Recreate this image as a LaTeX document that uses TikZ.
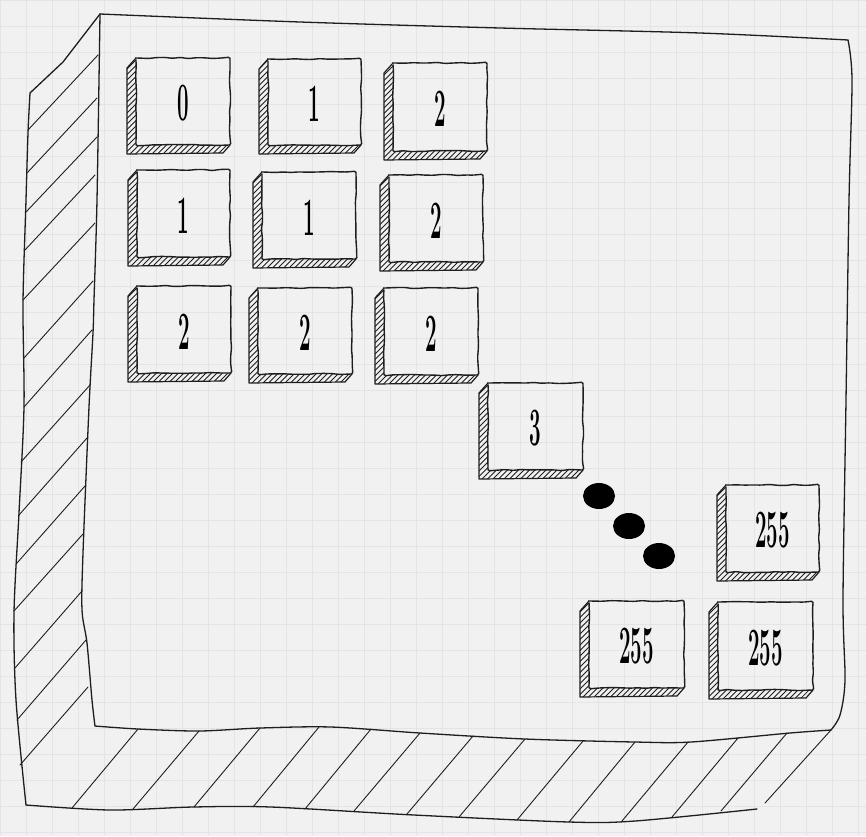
\documentclass[tikz,border=0pt]{standalone}
\usepackage{fontspec}
\usetikzlibrary{decorations.pathmorphing,shapes.geometric}
\definecolor{bg}{HTML}{F1F1F1}
\definecolor{gridc}{HTML}{E4E4E4}
\definecolor{ink}{HTML}{1E1E1E}
\tikzset{
  outline/.style={draw=ink, line width=1.3pt, line join=round, line cap=round},
  bighatch/.style={draw=ink, line width=0.9pt, line cap=round},
  boxface/.style={draw=ink, line width=1.4pt, line join=round, decorate,
    decoration={random steps, segment length=8pt, amplitude=0.6pt}, rounded corners=1.5pt},
  shadeline/.style={draw=ink, line width=1.2pt, line join=round},
  fine/.style={draw=ink, line width=0.75pt},
  digit/.style={inner sep=0pt, font=\fontsize{54}{54}\selectfont\bfseries, text=black},
  dot/.style={ellipse, fill=black, draw=none, minimum width=32pt, minimum height=26pt, inner sep=0pt}
}
\newcommand\cubebox[6]{%
  \begin{scope}
    \clip (#2,#3) -- ({#2-9},{#3+10}) -- ({#2-9},{#5+9}) -- ({#4-7},{#5+8}) -- (#4,#5) -- (#2,#5) -- cycle;
    \foreach \t in {-110,-104.5,...,100} \draw[fine] ({#2+\t},{#5+14}) -- ++(150,-150);
  \end{scope}
  \draw[shadeline] (#2,#3) -- ({#2-9},{#3+10}) -- ({#2-9},{#5+9}) -- ({#4-7},{#5+8}) -- (#4,#5);
  \draw[boxface] (#2,#3) rectangle (#4,#5);
  \node[digit] (#1) at ({(#2+#4)/2},{(#3+#5)/2+2}) {\scalebox{0.38}[1]{#6}};
}
\begin{document}
\begin{tikzpicture}[x=1pt,y=-1pt]
\useasboundingbox (0,0) rectangle (866,836);
\fill[bg] (0,0) rectangle (866,836);
\foreach \g in {0,26,...,858} \draw[gridc, line width=1pt] (\g,0) -- (\g,836);
\foreach \g in {0,26,...,832} \draw[gridc, line width=1pt] (0,\g) -- (866,\g);
\pgfmathsetseed{7}
% big slab: front face
\draw[outline] plot[smooth] coordinates {(100,14) (300,22) (500,28) (700,33) (848,40)};
\draw[outline] plot[smooth] coordinates {(848,40) (852,80) (849,200) (846,400) (843,600) (845,680) (840,715) (831,730)};
\draw[outline] plot[smooth] coordinates {(831,730) (790,733) (691,742) (635,742) (525,739) (420,733) (331,727) (260,728) (199,731) (138,729) (95,726)};
\draw[outline] plot[smooth] coordinates {(95,726) (92,700) (87,643) (82,610) (83,553) (89,407) (93,333) (94,300) (97,200) (100,14)};
% left face
\draw[outline] (100,14) -- (63,62) -- (30,93);
\draw[outline] plot[smooth] coordinates {(30,93) (28,133) (26,200) (23,303) (24,407) (19,513) (14,613) (16,700) (26,805)};
% bottom face
\draw[outline] plot[smooth] coordinates {(26,805) (110,810) (193,807) (271,807) (414,815) (569,822) (635,821) (757,809)};
% left face hatching
\foreach \a/\b/\c/\d in {28/130/98/55, 27/173/97/98, 26/212/97/137, 25/250/95/175, 23/300/95/223,
  24/358/93/281, 24/407/92/330, 21/462/90/385, 19/515/87/438, 17/563/85/486, 14/611/83/534,
  15/668/82/591, 17/720/86/640, 20/765/88/687}
  \draw[bighatch] (\a,\b) -- (\c,\d);
% bottom face hatching
\foreach \a/\b/\c/\d in {138/729/72/808, 199/731/133/809, 260/728/194/807, 319/727/253/807,
  371/729/305/809, 420/733/354/811, 473/736/407/814, 525/739/459/817, 583/741/517/820,
  635/742/569/822, 688/742/622/821, 738/738/672/817, 787/733/721/811, 831/730/765/803}
  \draw[bighatch] (\a,\b) -- (\c,\d);
% small boxes
\cubebox{c1}{136}{58}{230}{145}{0}
\cubebox{c2}{268}{59}{361}{145}{1}
\cubebox{c3}{393}{63}{487}{151}{2}
\cubebox{c4}{137}{170}{230}{257}{1}
\cubebox{c5}{262}{172}{356}{259}{1}
\cubebox{c6}{389}{175}{483}{262}{2}
\cubebox{c7}{137}{286}{231}{373}{2}
\cubebox{c8}{258}{288}{352}{374}{2}
\cubebox{c9}{384}{288}{478}{375}{2}
\cubebox{c10}{488}{383}{583}{470}{3}
\cubebox{c11}{726}{485}{819}{572}{255}
\cubebox{c12}{589}{601}{684}{688}{255}
\cubebox{c13}{718}{602}{813}{690}{255}
% dots
\node[dot] (d1) at (599,496) {};
\node[dot] (d2) at (629,526) {};
\node[dot] (d3) at (659,556) {};
\end{tikzpicture}
\end{document}
